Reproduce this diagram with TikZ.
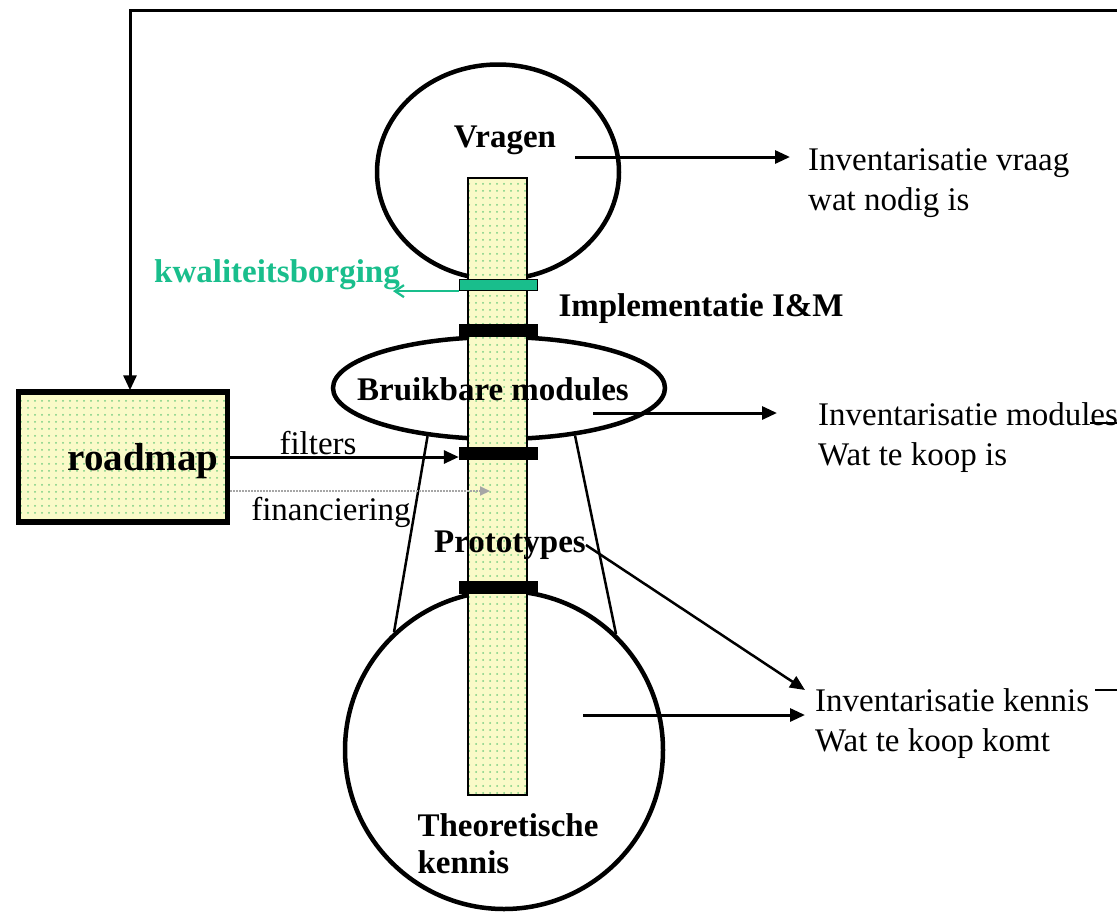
\documentclass[tikz,border=0pt]{standalone}
\usepackage{fontspec}
\setmainfont{Liberation Serif}
\usetikzlibrary{shapes}
\usetikzlibrary{positioning}
\usetikzlibrary{arrows.meta}
\usetikzlibrary{patterns.meta}
\definecolor{padfill}{RGB}{250,250,200}
\definecolor{dotgreen}{RGB}{120,205,130}
\definecolor{qateal}{RGB}{25,190,140}
\tikzset{
    dotfill/.style = {preaction={fill=padfill},pattern={Dots[distance=7pt,radius=1pt]},pattern color=dotgreen},
    bubble/.style = {ellipse, line width=4.5pt, draw=black, inner sep=0pt},
    column/.style = {rectangle, draw=black, line width=1.5pt, dotfill, minimum width=59pt, minimum height=617pt},
    gate/.style = {rectangle, fill=black, minimum width=79pt, minimum height=13pt, inner sep=0pt},
    qagate/.style = {rectangle, fill=qateal, draw=black, line width=1.2pt, minimum width=78pt, minimum height=11pt, inner sep=0pt},
    mapbox/.style = {rectangle, draw=black, line width=5.5pt, dotfill, minimum width=209pt, minimum height=130pt},
    plaintxt/.style = {inner sep=0pt, align=left, font=\fontsize{33}{40}\selectfont},
    boldtxt/.style = {inner sep=0pt, align=left, font=\fontsize{33}{37}\selectfont\bfseries},
    edgen/.style = {-{Triangle[length=15pt,width=13pt]},line width=3pt},
    edget/.style = {-{Triangle[length=15pt,width=13pt]},line width=2.5pt},
    edgeq/.style = {-{Straight Barb[length=9pt,width=12pt]},line width=2.2pt,qateal},
    edgef/.style = {-{Triangle[length=10pt,width=9pt]},line width=2pt,gray!70,densely dotted},
    edgel/.style = {line width=2.5pt},
    edgefb/.style = {-{Triangle[length=15pt,width=13pt]},line width=3pt},
}

\begin{document}
\begin{tikzpicture}[x=1pt,y=-1pt]
\path[use as bounding box] (0,0) rectangle (1117,919);
%
\node[bubble,minimum width=242pt,minimum height=215pt] at (498,172) (vragen) {};
\node[bubble,minimum width=332pt,minimum height=102pt] at (499,388) (bruik) {};
\node[bubble,minimum width=318pt,minimum height=318pt] at (504,750) (kennis) {};
\node[mapbox] at (123,457) (roadmap) {};
%
\draw[edgel] (bruik.214) -- (kennis.133);
\draw[edgel] (bruik.328) -- (kennis.46);
%
\node[column] at (497.5,486.5) (col) {};
\node[qagate] at (498.5,285) (qa) {};
\node[gate] at (498.5,330) (gatei) {};
\node[gate] at (498.5,453.5) (gateii) {};
\node[gate] at (498.5,587) (gateiii) {};
%
\node[boldtxt] at (505,140) (vragenlbl) {Vragen};
\node[boldtxt] at (493,389) (bruiklbl) {Bruikbare modules};
\node[boldtxt] at (701,309) (impl) {Implementatie I\&M};
\node[boldtxt] at (510,545) (proto) {Prototypes};
\node[boldtxt] at (508,844) (theolbl) {Theoretische\\kennis};
\node[boldtxt,font=\fontsize{39}{44}\selectfont\bfseries] at (143,461) (roadmaplbl) {roadmap};
\node[boldtxt,text=qateal] at (277,275) (kwal) {kwaliteitsborging};
\node[plaintxt] at (318,443) (filters) {filters};
\node[plaintxt] at (331,512) (fin) {financiering};
%
\node[plaintxt,anchor=west] at (808,183) (invvraag) {Inventarisatie vraag\\wat nodig is};
\node[plaintxt,anchor=west] at (818,438) (invmod) {Inventarisatie modules\\Wat te koop is};
\node[plaintxt,anchor=west] at (815,724) (invkennis) {Inventarisatie kennis\\Wat te koop komt};
%
\coordinate (vq) at (575,157);
\coordinate (bm) at (593,413);
\coordinate (tk) at (583,715);
\coordinate (protoend) at (805,690);
\coordinate (qaend) at (393,290);
\coordinate (finend) at (490,491);
\coordinate (rtop) at (1117,10);
\coordinate (rmod) at (1117,423);
\coordinate (rken) at (1117,690);
%
\draw[edgen] (vq) -- ([xshift=-18pt]vq -| invvraag.west);
\draw[edgen] (bm) -- ([xshift=-41pt]bm -| invmod.west);
\draw[edgen] (tk) -- ([xshift=-10pt]tk -| invkennis.west);
\draw[edget] (proto.east) -- (protoend);
\draw[edgeq] (qa.south west) -- (qa.south west -| qaend);
\draw[edgen] (roadmap.east) -- (roadmap.east -| gateii.west);
\draw[edgef] (roadmap.east |- finend) -- (finend);
%
\draw[edgefb] (rtop) -| ([xshift=7pt,yshift=-1pt]roadmap.north);
\draw[edgel] (rmod) -- ++(-27,0);
\draw[edgel] (rken) -- ++(-22,0);

\end{tikzpicture}
\end{document}
